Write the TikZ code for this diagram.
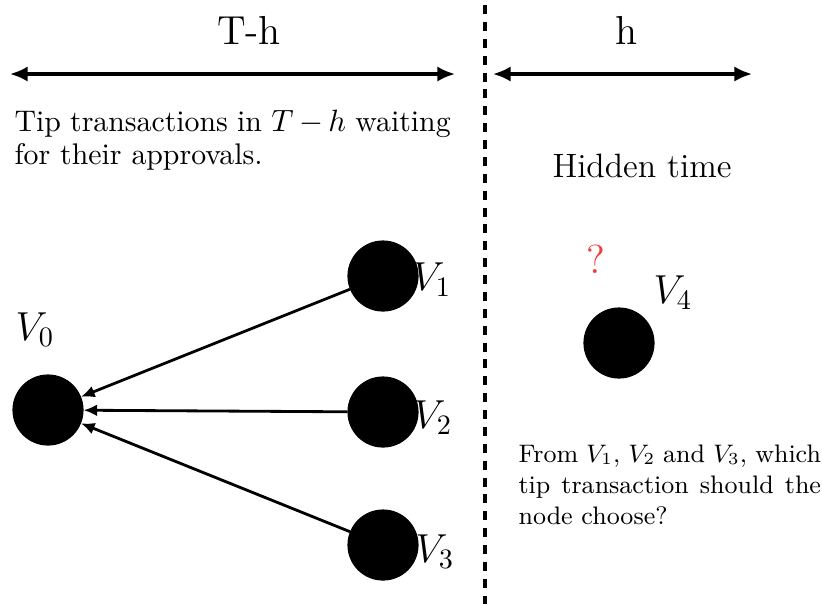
\documentclass[tikz,border=0pt]{standalone}
\usepackage{amsmath,amssymb}
\usepackage{tikz}
\usetikzlibrary{arrows.meta,positioning}
\usepackage{xcolor}
\definecolor{qRed}{HTML}{F03C3C}

\begin{document}
\begin{tikzpicture}[
      x=0.0125cm, y=-0.0125cm,
      vtx/.style={circle, fill=black, draw=black, minimum size=0.875cm, inner sep=0pt},
      vlabel/.style={font=\Large, inner sep=0pt},
      span/.style={{Latex[length=2.2mm,width=1.9mm]}-{Latex[length=2.2mm,width=1.9mm]}, line width=1.1pt},
      edge/.style={-{Latex[length=1.7mm,width=1.5mm]}, line width=1pt},
      note/.style={anchor=north west, inner sep=0pt, align=justify},
    ]
    \useasboundingbox (0,0) rectangle (822,604);

    % ---------- separador ----------
    \coordinate (sepTop) at (485,5);
    \coordinate (sepBot) at (485,604);
    \draw[line width=1.2pt, dash pattern=on 3.2pt off 2.8pt] (sepTop) -- (sepBot);

    % ---------- intervalos ----------
    \coordinate (thL) at (10,74);
    \coordinate (thR) at (455,74);
    \coordinate (hL)  at (493,74);
    \coordinate (hR)  at (752,74);
    \draw[span] (thL) -- (thR);
    \draw[span] (hL) -- (hR);
    \node[font=\Large] (thTxt) at (249,30) {T-h};
    \node[font=\Large] (hTxt)  at (627,30) {h};

    % ---------- textos ----------
    \node[note, text width=5.45cm, font=\fontsize{10.6}{11.6}\selectfont] (tipNote) at (14,110)
      {Tip transactions in $T-h$ waiting for their approvals.};
    \node[font=\large] (hidden) at (642,166) {Hidden time};
    \node[note, text width=3.78cm, font=\small] (askNote) at (518,444)
      {From $V_1$, $V_2$ and $V_3$, which tip transaction should the node choose?};

    % ---------- transacciones ----------
    \node[vtx] (v0) at (48,410) {};
    \node[vtx] (v1) at (383,276) {};
    \node[vtx] (v2) at (383,412) {};
    \node[vtx] (v3) at (383,545) {};
    \node[vtx] (v4) at (619,343) {};

    \node[vlabel] (l0) at (35,330) {$V_0$};
    \node[vlabel] (l1) at (432,280) {$V_1$};
    \node[vlabel] (l2) at (433,418) {$V_2$};
    \node[vlabel] (l3) at (435,552) {$V_3$};
    \node[vlabel] (l4) at (673,293) {$V_4$};
    \node[vlabel, text=qRed] (qm) at (596,259) {?};

    % ---------- aprobaciones ----------
    \draw[edge] (v1) -- (v0);
    \draw[edge] (v2) -- (v0);
    \draw[edge] (v3) -- (v0);

  \end{tikzpicture}
\end{document}
